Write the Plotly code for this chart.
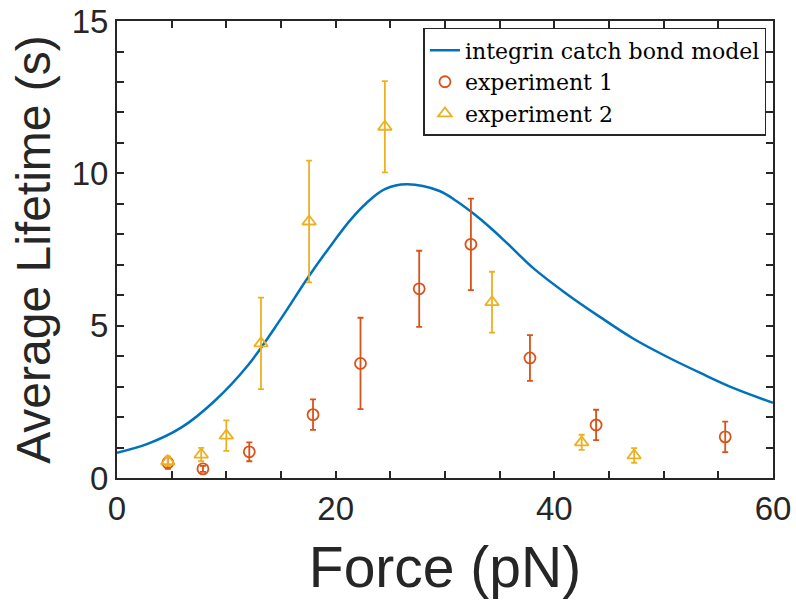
import plotly.graph_objects as go

# Model curve
model_force = [0, 2.8, 5.9, 8.9, 12.0, 15.0, 17.5, 19.8, 21.3, 22.8, 24.5, 26.5, 29.5, 31.0, 32.6, 34.1, 35.7, 38.1, 41.1, 44.2, 47.2, 50.3, 53.4, 56.4, 60]
model_life = [0.83, 1.12, 1.66, 2.52, 3.71, 5.23, 6.6, 7.75, 8.45, 9.02, 9.48, 9.64, 9.42, 9.1, 8.68, 8.23, 7.70, 6.88, 6.05, 5.28, 4.58, 3.98, 3.44, 2.95, 2.47]

# Experiment 1
exp1_force = [4.65, 7.86, 12.1, 17.93, 22.27, 27.64, 32.37, 37.77, 43.82, 55.63]
exp1_life = [0.5, 0.3, 0.86, 2.08, 3.76, 6.21, 7.67, 3.94, 1.74, 1.35]
exp1_err = [0.2, 0.1, 0.31, 0.5, 1.5, 1.25, 1.5, 0.75, 0.5, 0.5]

# Experiment 2
exp2_force = [4.65, 7.7, 10.0, 13.17, 17.57, 24.5, 34.3, 42.5, 47.3]
exp2_life = [0.55, 0.77, 1.39, 4.42, 8.42, 11.53, 5.77, 1.17, 0.74]
exp2_err = [0.15, 0.22, 0.5, 1.5, 2.0, 1.5, 1.0, 0.25, 0.24]

x_tickvals = list(range(0, 61, 5))
x_ticktext = [str(v) if v % 20 == 0 else "" for v in x_tickvals]
y_tickvals = list(range(0, 16, 1))
y_ticktext = [str(v) if v % 5 == 0 else "" for v in y_tickvals]

BLUE = "#0072BD"
ORANGE = "#D95319"
YELLOW = "#EDB120"
AX = "#262626"

fig = go.Figure()
fig.add_trace(go.Scatter(
    x=model_force, y=model_life, mode="lines", name="integrin catch bond model",
    line=dict(color=BLUE, width=2.5, shape="spline", smoothing=1.0),
))
fig.add_trace(go.Scatter(
    x=exp1_force, y=exp1_life, mode="markers", name="experiment 1",
    marker=dict(symbol="circle-open", size=11, color=ORANGE, line=dict(width=1.8, color=ORANGE)),
    error_y=dict(type="data", array=exp1_err, color=ORANGE, thickness=1.8, width=3),
))
fig.add_trace(go.Scatter(
    x=exp2_force, y=exp2_life, mode="markers", name="experiment 2",
    marker=dict(symbol="triangle-up-open", size=12, color=YELLOW, line=dict(width=1.8, color=YELLOW)),
    error_y=dict(type="data", array=exp2_err, color=YELLOW, thickness=1.8, width=3),
))

axis_common = dict(
    showgrid=False, zeroline=False, showline=True, linecolor=AX, linewidth=2,
    mirror="ticks", ticks="inside", ticklen=7, tickwidth=1.5, tickcolor=AX,
    automargin=False, ticklabeloverflow="allow",
    tickfont=dict(family="Liberation Sans, Arial, sans-serif", size=33, color=AX),
)

fig.update_layout(
    width=796, height=607,
    margin=dict(l=117, r=23, t=21, b=129),
    plot_bgcolor="white", paper_bgcolor="white",
    xaxis=dict(range=[0, 60], tickmode="array", tickvals=x_tickvals, ticktext=x_ticktext,
               title=dict(text="Force (pN)", font=dict(family="Liberation Sans, Arial, sans-serif", size=57, color=AX), standoff=22),
               **axis_common),
    yaxis=dict(range=[0, 15.001], tickmode="array", tickvals=y_tickvals, ticktext=y_ticktext,
               title=dict(text="Average Lifetime (s)", font=dict(family="Liberation Sans, Arial, sans-serif", size=48, color=AX), standoff=6),
               **axis_common),
    legend=dict(x=0.99, y=0.985, xanchor="right", yanchor="top",
                bgcolor="white", bordercolor=AX, borderwidth=1.5,
                font=dict(family="DejaVu Serif, serif", size=22, color="black"),
                tracegroupgap=0, itemwidth=30),
    showlegend=True,
)

fig.write_html("out.html")
